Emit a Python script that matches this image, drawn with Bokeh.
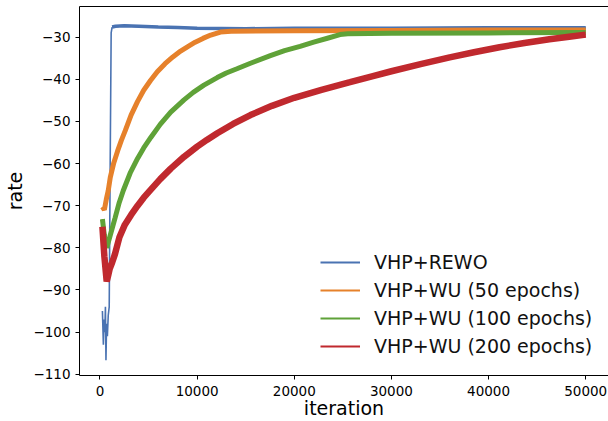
from bokeh.plotting import figure
from bokeh.models import (Range1d, FixedTicker, LinearAxis, Legend, LegendItem)
from bokeh.embed import file_html
from bokeh.resources import INLINE

# ---- data ----
blue_x = [250, 350, 420, 500, 560, 615, 680, 760, 850, 950, 1050, 1150, 1250,
          1600, 2500, 4000, 6000, 8000, 10000, 15000, 20000, 30000, 40000, 50000]
blue_y = [-95, -103, -97, -100, -94, -106.7, -98, -101, -96, -94, -60, -29, -27.6,
          -27.4, -27.3, -27.4, -27.6, -27.7, -27.9, -28.0, -27.9, -27.9, -27.8, -27.8]

orange_x = [250, 450, 650, 850, 1060, 1400, 1815, 2200, 2600, 3200, 3860, 4500, 5200,
            5900, 6700, 7500, 8300, 9000, 9800, 10600, 11400, 12400, 13500, 20000,
            30000, 40000, 50000]
orange_y = [-70.3, -71, -68.5, -66.4, -63.3, -60, -57, -54.5, -52.2, -48.5, -45.3, -42.6,
            -40.3, -38.2, -36.3, -34.7, -33.3, -32.3, -31.2, -30.3, -29.5, -28.8, -28.6,
            -28.5, -28.4, -28.3, -28.3]

green_x = [250, 450, 690, 1000, 1300, 1540, 1950, 2400, 3100, 3870, 4500, 5230, 6200,
           7280, 8650, 9600, 10700, 12070, 13000, 14100, 15490, 17540, 19000, 20600,
           22000, 23500, 24700, 25500, 30000, 40000, 50000]
green_y = [-73.2, -77, -80, -77.5, -75, -73, -69.5, -66.4, -62.3, -58.8, -56.3, -53.8, -50.7,
           -47.8, -44.9, -43.1, -41.4, -39.6, -38.5, -37.5, -36.2, -34.4, -33.2, -32.2,
           -31.2, -30.2, -29.4, -29.2, -29.1, -29.0, -28.9]

red_x = [250, 450, 690, 850, 1000, 1250, 1540, 2000, 2560, 3200, 3870, 4500, 5230, 6200,
         7280, 8650, 10000, 11000, 12070, 13700, 15490, 17700, 20000, 22800, 25740,
         28000, 30000, 33000, 36000, 38500, 41130, 43700, 46260, 48300, 50000]
red_y = [-75, -82, -88, -86.5, -85, -83.5, -81.5, -77.5, -74.5, -72.2, -70, -68.1, -66.2,
         -63.7, -61.2, -58.4, -56.0, -54.4, -52.8, -50.6, -48.5, -46.3, -44.4, -42.5, -40.7,
         -39.3, -38.1, -36.4, -34.8, -33.6, -32.4, -31.4, -30.5, -29.9, -29.4]

labels = ["VHP+REWO", "VHP+WU (50 epochs)", "VHP+WU (100 epochs)", "VHP+WU (200 epochs)"]
colors = ["#4a73b2", "#e6812b", "#5fa238", "#c0292e"]

x_ticks = [0, 10000, 20000, 30000, 40000, 50000]
y_ticks = [-110, -100, -90, -80, -70, -60, -50, -40, -30]

FONT = "DejaVu Sans"

p = figure(width=608, height=421, output_backend="svg", toolbar_location=None,
           x_range=Range1d(-2109, 52346), y_range=Range1d(-110.3, -22.73),
           min_border_left=79, min_border_right=0, min_border_top=6, min_border_bottom=44)
p.outline_line_color = None
p.xgrid.visible = False
p.ygrid.visible = False
p.background_fill_color = "white"
p.border_fill_color = "white"

split = 13
series = [(blue_x[split - 1:], blue_y[split - 1:]), (orange_x, orange_y),
          (green_x, green_y), (red_x, red_y)]

# legend proxies: thin lines drawn underneath the thick curves
items = []
for lab, c, (sx, sy) in zip(labels, colors, series):
    r = p.line(sx, sy, line_color=c, line_width=2)
    items.append(LegendItem(label=lab, renderers=[r]))

# curves
p.line(blue_x[:split], blue_y[:split], line_color=colors[0], line_width=1.6)
p.line(blue_x[split - 1:], blue_y[split - 1:], line_color=colors[0], line_width=3.5)
p.line(orange_x, orange_y, line_color=colors[1], line_width=5)
p.line(green_x, green_y, line_color=colors[2], line_width=5)
p.line(red_x, red_y, line_color=colors[3], line_width=6.5)

legend = Legend(items=items, location=(241, 18), padding=0, margin=0,
                border_line_color=None, background_fill_alpha=0,
                glyph_width=40, glyph_height=20, label_height=20,
                label_standoff=14, spacing=6,
                label_text_font=FONT, label_text_font_size="19px",
                label_text_color="#111111")
p.add_layout(legend)

# axes
for ax, ticks in ((p.xaxis[0], x_ticks), (p.yaxis[0], y_ticks)):
    ax.ticker = FixedTicker(ticks=ticks)
    ax.minor_tick_line_color = None
    ax.major_tick_in = 0
    ax.major_tick_out = 4
    ax.major_label_text_font = FONT
    ax.major_label_text_font_size = "13.5px"
    ax.major_label_text_color = "black"
    ax.axis_line_color = "black"
    ax.axis_label_text_font = FONT
    ax.axis_label_text_font_size = "19px"
    ax.axis_label_text_font_style = "normal"
    ax.axis_label_text_color = "black"

p.xaxis[0].major_label_standoff = 6
p.xaxis[0].axis_label_standoff = -2
p.yaxis[0].major_label_standoff = 5
p.yaxis[0].axis_label_standoff = 4
p.xaxis[0].axis_label = "iteration"
p.yaxis[0].axis_label = "rate"
p.yaxis[0].major_label_overrides = {t: "\u2212" + str(-t) for t in y_ticks}

top = LinearAxis(ticker=FixedTicker(ticks=[]), major_tick_line_color=None,
                 minor_tick_line_color=None, major_label_text_font_size="0px",
                 major_label_standoff=0, axis_line_color="black")
p.add_layout(top, "above")

open("out.html", "w").write(file_html(p, INLINE))
